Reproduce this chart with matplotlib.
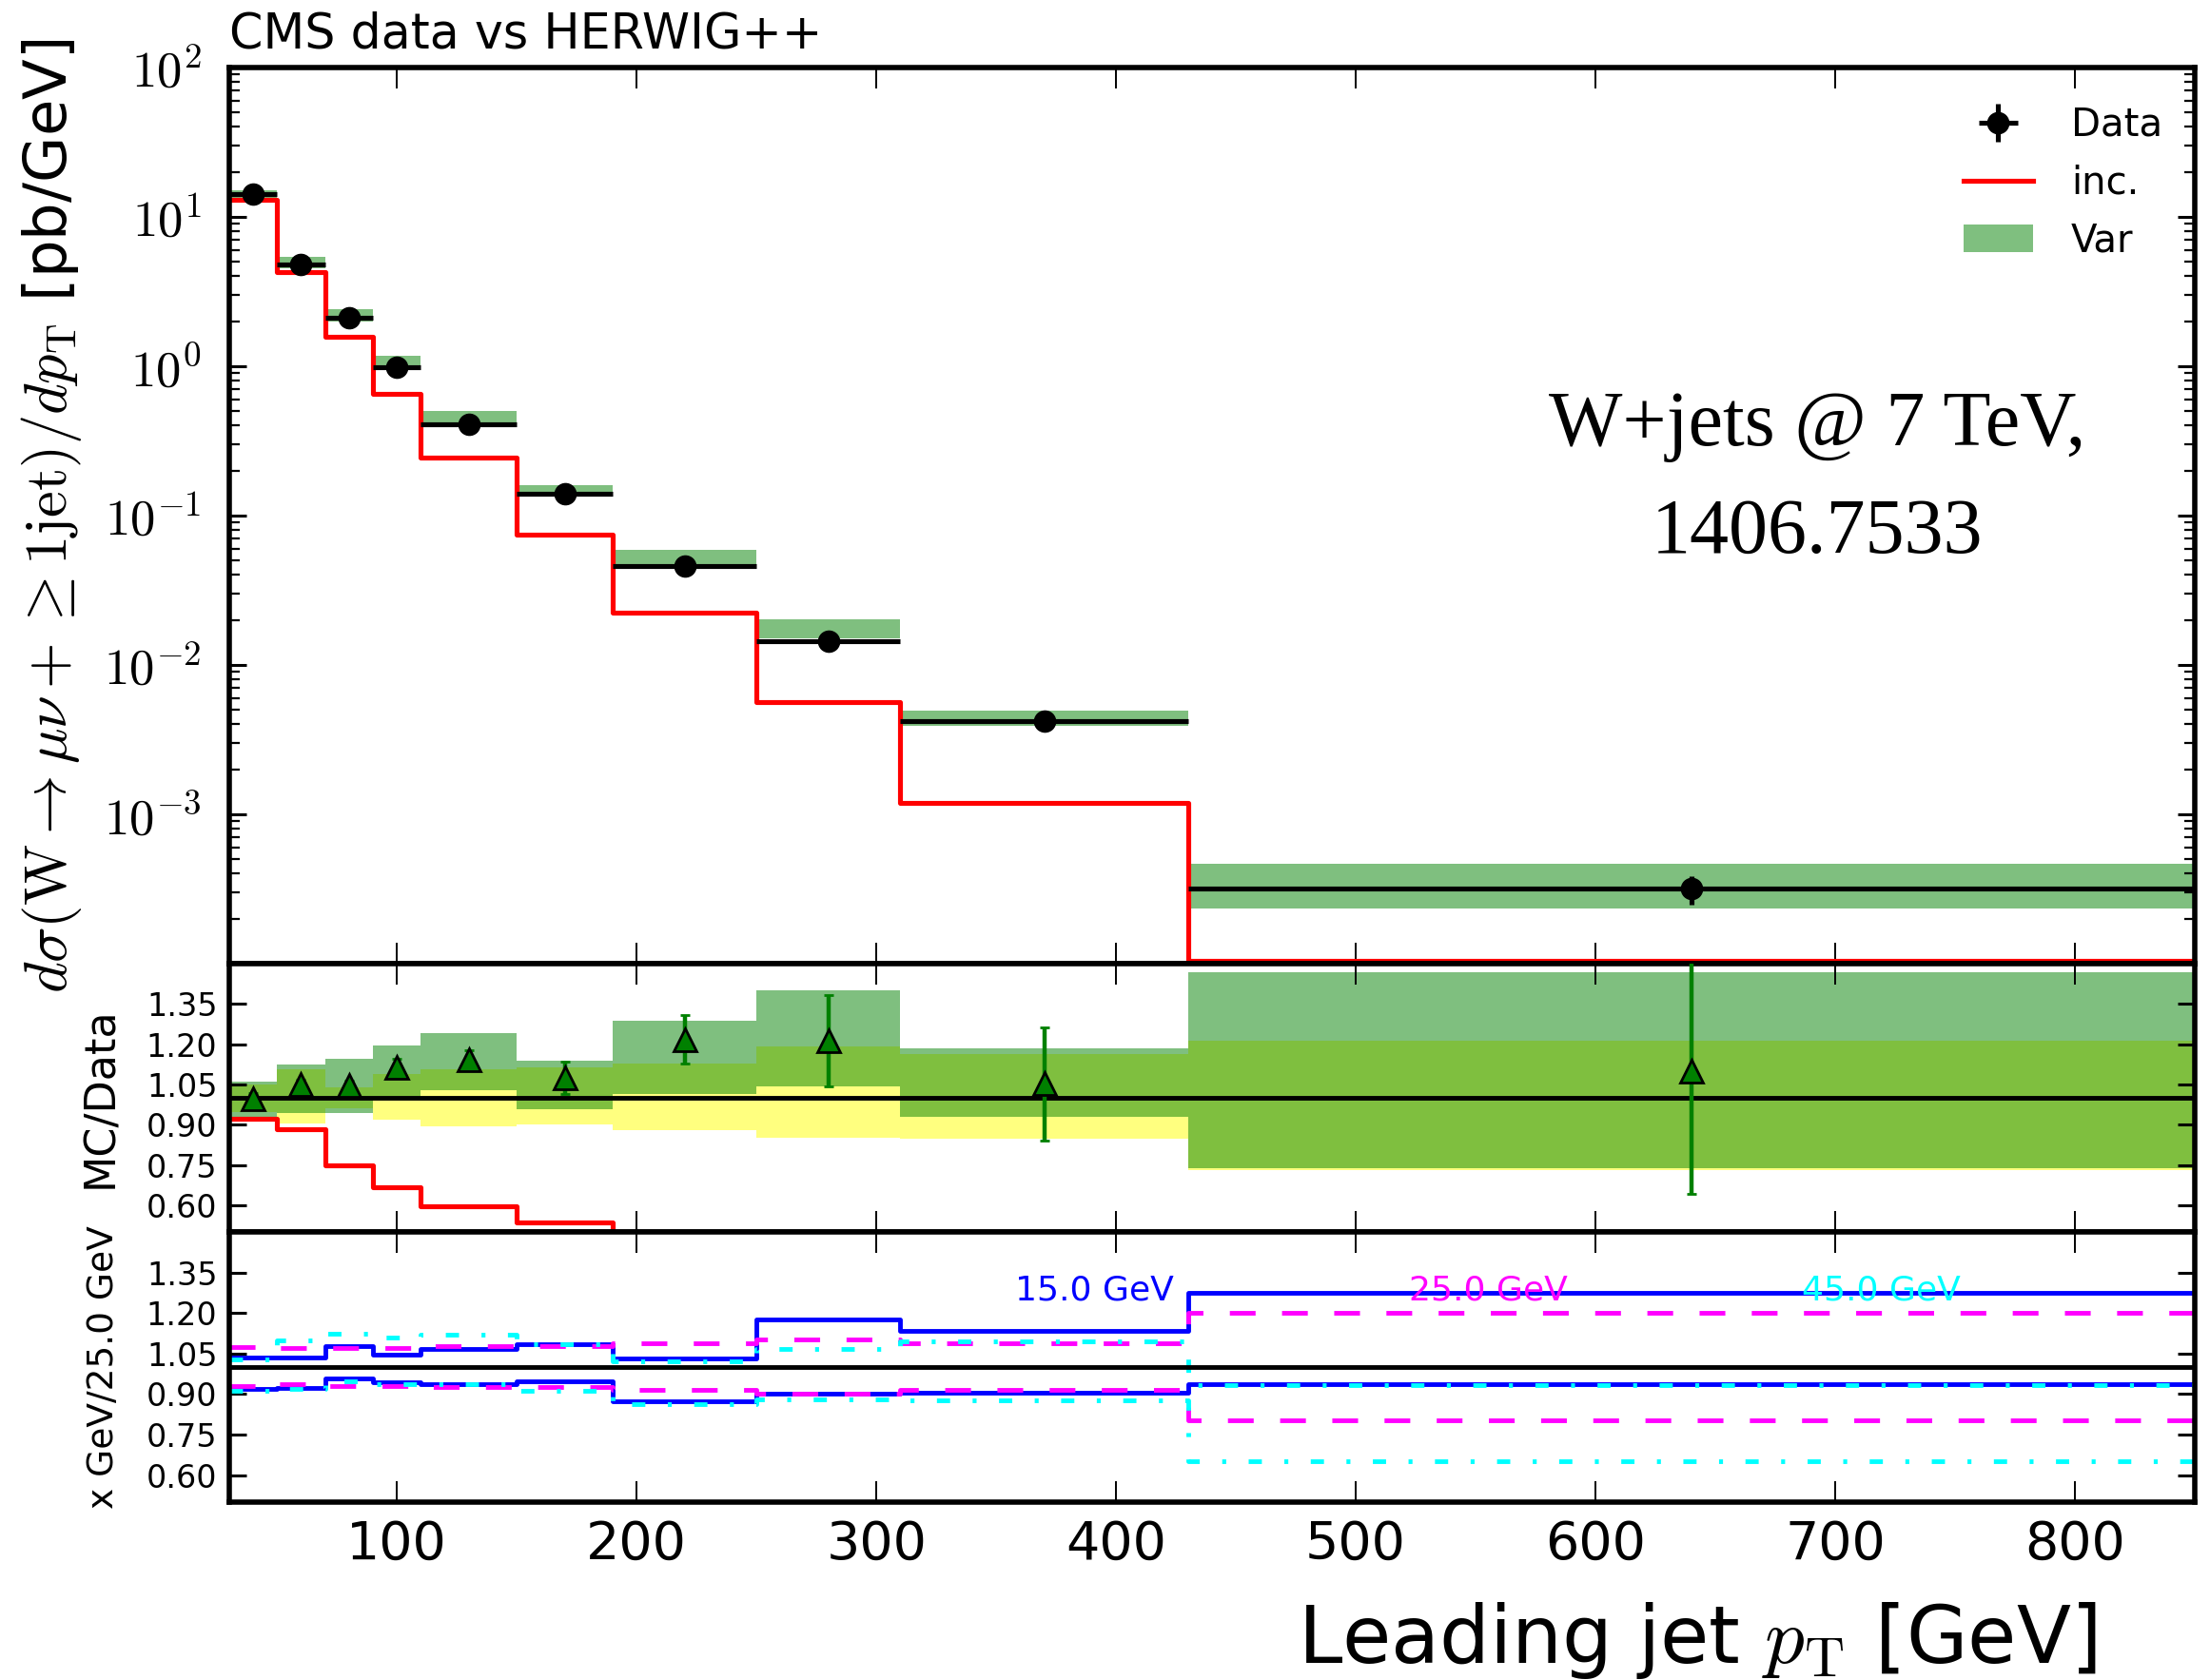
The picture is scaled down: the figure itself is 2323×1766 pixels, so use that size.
import numpy as np
import matplotlib
matplotlib.use("Agg")
import matplotlib.pyplot as plt
from matplotlib.lines import Line2D
from matplotlib.patches import Patch

plt.rcParams["mathtext.fontset"] = "cm"
plt.rcParams["lines.scale_dashes"] = False
plt.rcParams["font.family"] = ["DejaVu Sans"]

# binning of leading jet pT [GeV]
bin_edges = [30, 50, 70, 90, 110, 150, 190, 250, 310, 430, 850]

# main panel: cross sections [pb/GeV]
data_xsec = [14.2, 4.82, 2.10, 0.985, 0.407, 0.140, 0.0459, 0.01435, 0.00419, 3.17e-4]
data_rel_err = [0.04, 0.04, 0.04, 0.05, 0.05, 0.06, 0.08, 0.12, 0.10, 0.22]
inc_xsec = [13.1, 4.26, 1.57, 0.657, 0.243, 0.075, 0.0223, 0.00566, 0.0012, 1.04e-4]

# ratio panel (MC/Data)
var_lo = [0.920, 0.944, 0.945, 0.995, 1.027, 0.956, 1.015, 1.044, 0.928, 0.737]
var_hi = [1.061, 1.125, 1.146, 1.196, 1.242, 1.139, 1.288, 1.399, 1.186, 1.469]
yel_lo = [0.948, 0.903, 0.960, 0.920, 0.892, 0.899, 0.879, 0.852, 0.849, 0.731]
yel_hi = [1.051, 1.105, 1.040, 1.090, 1.107, 1.112, 1.129, 1.193, 1.164, 1.211]
var_ratio = [0.996, 1.049, 1.045, 1.112, 1.142, 1.075, 1.217, 1.211, 1.052, 1.099]
var_err_lo = [0.02, 0.02, 0.02, 0.03, 0.034, 0.061, 0.090, 0.169, 0.212, 0.456]
var_err_hi = [0.02, 0.02, 0.02, 0.033, 0.034, 0.061, 0.092, 0.172, 0.210, 0.456]

# bottom panel: x GeV / 25.0 GeV
blue_up = [1.035, 1.035, 1.079, 1.047, 1.067, 1.086, 1.033, 1.175, 1.133, 1.273]
blue_dn = [0.918, 0.924, 0.956, 0.944, 0.938, 0.946, 0.874, 0.900, 0.906, 0.935]
mag_up = [1.074, 1.072, 1.072, 1.072, 1.077, 1.077, 1.087, 1.103, 1.087, 1.200]
mag_dn = [0.930, 0.935, 0.929, 0.929, 0.926, 0.926, 0.914, 0.900, 0.914, 0.802]
cyan_up = [1.029, 1.100, 1.124, 1.110, 1.118, 1.084, 1.021, 1.068, 1.096, 0.934]
cyan_dn = [0.912, 0.920, 0.948, 0.938, 0.936, 0.911, 0.864, 0.879, 0.877, 0.650]
scale_labels = ["15.0 GeV", "25.0 GeV", "45.0 GeV"]

log_exponents = [-3, -2, -1, 0, 1, 2]
x_ticks = [100, 200, 300, 400, 500, 600, 700, 800]
ratio_ticks = [0.60, 0.75, 0.90, 1.05, 1.20, 1.35]

edges = np.array(bin_edges, dtype=float)
centers = 0.5 * (edges[:-1] + edges[1:])
widths = np.diff(edges)
data = np.array(data_xsec)
inc = np.array(inc_xsec)


def step_vals(v):
    return np.append(v, v[-1])


fig = plt.figure(figsize=(23.23, 17.66), dpi=100)
L, R = 0.1037, 0.9931
ax0 = fig.add_axes([L, 0.4264, R - L, 0.9598 - 0.4264])
ax1 = fig.add_axes([L, 0.2667, R - L, 0.4264 - 0.2667], sharex=ax0)
ax2 = fig.add_axes([L, 0.1059, R - L, 0.2667 - 0.1059], sharex=ax0)

# --- main panel
ax0.bar(edges[:-1], data * (np.array(var_hi) - np.array(var_lo)), bottom=data * np.array(var_lo),
        width=widths, align="edge", color="green", alpha=0.5, linewidth=0)
ax0.step(edges, step_vals(inc), where="post", color="red", lw=3.7)
ax0.errorbar(centers, data, xerr=widths / 2, yerr=data * np.array(data_rel_err), fmt="o",
             color="black", ms=16, elinewidth=3.7, capsize=0, zorder=5)
ax0.set_yscale("log")
ax0.set_ylim(1e-4, 1e2)
ax0.set_xlim(30, 850)
ax0.set_yticks([10.0 ** e for e in log_exponents])
ax0.set_yticklabels([r"$10^{%d}$" % e for e in log_exponents])
ax0.yaxis.set_minor_locator(matplotlib.ticker.LogLocator(base=10, subs=np.arange(2, 10), numticks=20))
ax0.yaxis.set_minor_formatter(matplotlib.ticker.NullFormatter())
ax0.set_ylabel(r"$d\sigma(\mathrm{W}\rightarrow\mu\nu+\geq1\mathrm{jet})/dp_\mathrm{T}$ [pb/GeV]", fontsize=45)
ax0.yaxis.set_label_coords(-0.074, 0.5)
ax0.set_title("CMS data vs HERWIG++", loc="left", fontsize=36.5, pad=15)
ax0.text(0.808, 0.54, "W+jets @ 7 TeV,\n1406.7533", transform=ax0.transAxes, ha="center",
         va="center", multialignment="center", fontsize=59, family="Liberation Serif", linespacing=1.65)

h_data = ax0.errorbar([], [], xerr=[], yerr=[], fmt="o", color="black", ms=16, elinewidth=3.7)
h_inc = Line2D([], [], color="red", lw=3.7)
h_var = Patch(facecolor="green", alpha=0.5, linewidth=0)
ax0.legend([h_data, h_inc, h_var], ["Data", "inc.", "Var"], loc="upper right",
           bbox_to_anchor=(1.007, 1.008), frameon=False, fontsize=29, handlelength=1.8,
           labelspacing=0.52, borderaxespad=0.8, handletextpad=1.0)

# --- ratio panel
ax1.bar(edges[:-1], np.array(yel_hi) - np.array(yel_lo), bottom=yel_lo, width=widths,
        align="edge", color="yellow", alpha=0.5, linewidth=0)
ax1.bar(edges[:-1], np.array(var_hi) - np.array(var_lo), bottom=var_lo, width=widths,
        align="edge", color="green", alpha=0.5, linewidth=0)
ax1.axhline(1.0, color="black", lw=3.5)
ax1.step(edges, step_vals(inc / data), where="post", color="red", lw=3.7)
ax1.errorbar(centers, var_ratio, yerr=[var_err_lo, var_err_hi], fmt="^", color="green",
             mec="black", mew=2, ms=17, elinewidth=3.2, capsize=3.5, capthick=2.5, zorder=5)
ax1.set_ylim(0.5, 1.5)
ax1.set_ylabel("MC/Data", fontsize=32)
ax1.yaxis.set_label_coords(-0.055, 0.5)

# --- bottom panel
for up, dn, col, ls in [(blue_up, blue_dn, "blue", "-"),
                        (mag_up, mag_dn, "magenta", (0, (19.5, 20))),
                        (cyan_up, cyan_dn, "cyan", (0, (10, 17, 3, 17)))]:
    ax2.step(edges, step_vals(np.array(up)), where="post", color=col, lw=3.5, linestyle=ls)
    ax2.step(edges, step_vals(np.array(dn)), where="post", color=col, lw=3.5, linestyle=ls)
ax2.axhline(1.0, color="black", lw=3.5)
for xf, txt, col in zip([0.4, 0.6, 0.8], scale_labels, ["blue", "magenta", "cyan"]):
    ax2.text(xf, 0.75, txt, transform=ax2.transAxes, color=col, fontsize=26, va="baseline", ha="left")
ax2.set_ylim(0.5, 1.5)
ax2.set_ylabel("x GeV/25.0 GeV", fontsize=27)
ax2.yaxis.set_label_coords(-0.055, 0.5)
ax2.set_xlabel(r"Leading jet $p_\mathrm{T}$ [GeV]", fontsize=60, x=0.95, ha="right", labelpad=22)

for ax in (ax1, ax2):
    ax.set_yticks(ratio_ticks)
    ax.set_yticklabels(["%.2f" % t for t in ratio_ticks])
    ax.tick_params(axis="y", labelsize=24, pad=9)

for ax in (ax0, ax1, ax2):
    ax.set_xticks(x_ticks)
    ax.tick_params(which="both", direction="in", top=True, right=True)
    ax.tick_params(axis="x", which="major", length=16, width=1.4)
    ax.tick_params(axis="y", which="major", length=13, width=2.2)
    ax.tick_params(axis="y", which="minor", length=8, width=1.6)
    for sp in ax.spines.values():
        sp.set_linewidth(4)

ax0.tick_params(axis="y", labelsize=38, pad=21)
ax0.tick_params(axis="x", labelbottom=False)
ax1.tick_params(axis="x", labelbottom=False)
ax2.tick_params(axis="x", labelsize=40, pad=13)

fig.savefig("out.png", dpi=100)
